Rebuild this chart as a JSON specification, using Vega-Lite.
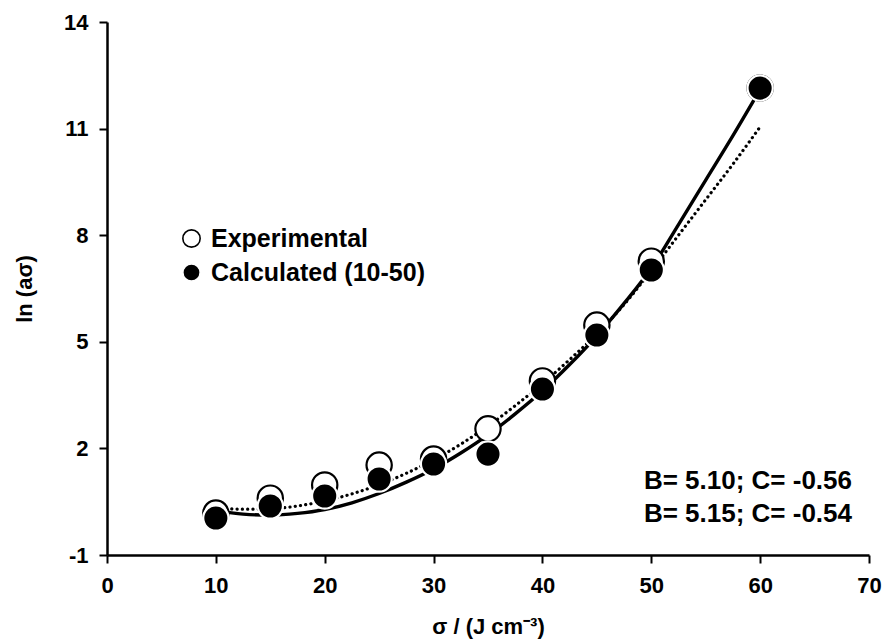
{
  "$schema": "https://vega.github.io/schema/vega-lite/v6.json",
  "width": 762,
  "height": 533,
  "autosize": {"type": "none"},
  "padding": {"left": 107, "top": 22, "right": 13, "bottom": 88},
  "background": "white",
  "config": {
    "view": {"stroke": null},
    "font": "Liberation Sans",
    "axis": {
      "grid": false,
      "domainColor": "black",
      "domainWidth": 2.5,
      "tickColor": "black",
      "tickWidth": 2,
      "tickSize": 8,
      "labelFlush": false,
      "labelOverlap": false,
      "labelFont": "Liberation Sans",
      "labelFontSize": 22,
      "labelFontWeight": "bold",
      "labelColor": "black",
      "labelExpr": "'' + datum.value",
      "titleFont": "Liberation Sans",
      "titleFontSize": 22,
      "titleFontWeight": "bold",
      "titleColor": "black"
    }
  },
  "datasets": {
    "points": [
      {"series": "Experimental", "sigma": 10, "ln": 0.18},
      {"series": "Experimental", "sigma": 15, "ln": 0.6},
      {"series": "Experimental", "sigma": 20, "ln": 0.97},
      {"series": "Experimental", "sigma": 25, "ln": 1.53},
      {"series": "Experimental", "sigma": 30, "ln": 1.7},
      {"series": "Experimental", "sigma": 35, "ln": 2.55},
      {"series": "Experimental", "sigma": 40, "ln": 3.9},
      {"series": "Experimental", "sigma": 45, "ln": 5.47},
      {"series": "Experimental", "sigma": 50, "ln": 7.27},
      {"series": "Experimental", "sigma": 60, "ln": 12.14},
      {"series": "Calculated (10-50)", "sigma": 10, "ln": 0.04},
      {"series": "Calculated (10-50)", "sigma": 15, "ln": 0.38},
      {"series": "Calculated (10-50)", "sigma": 20, "ln": 0.66},
      {"series": "Calculated (10-50)", "sigma": 25, "ln": 1.14},
      {"series": "Calculated (10-50)", "sigma": 30, "ln": 1.56},
      {"series": "Calculated (10-50)", "sigma": 35, "ln": 1.84},
      {"series": "Calculated (10-50)", "sigma": 40, "ln": 3.67},
      {"series": "Calculated (10-50)", "sigma": 45, "ln": 5.19},
      {"series": "Calculated (10-50)", "sigma": 50, "ln": 7.02},
      {"series": "Calculated (10-50)", "sigma": 60, "ln": 12.14}
    ],
    "curves": [
      {"curve": "solid", "sigma": 10, "ln": 0.25},
      {"curve": "solid", "sigma": 12.5, "ln": 0.15},
      {"curve": "solid", "sigma": 15, "ln": 0.12},
      {"curve": "solid", "sigma": 17.5, "ln": 0.17},
      {"curve": "solid", "sigma": 20, "ln": 0.28},
      {"curve": "solid", "sigma": 22.5, "ln": 0.47},
      {"curve": "solid", "sigma": 25, "ln": 0.73},
      {"curve": "solid", "sigma": 27.5, "ln": 1.05},
      {"curve": "solid", "sigma": 30, "ln": 1.42},
      {"curve": "solid", "sigma": 32.5, "ln": 1.87},
      {"curve": "solid", "sigma": 35, "ln": 2.38},
      {"curve": "solid", "sigma": 37.5, "ln": 2.97},
      {"curve": "solid", "sigma": 40, "ln": 3.62},
      {"curve": "solid", "sigma": 42.5, "ln": 4.36},
      {"curve": "solid", "sigma": 45, "ln": 5.17},
      {"curve": "solid", "sigma": 47.5, "ln": 6.08},
      {"curve": "solid", "sigma": 50, "ln": 7.07},
      {"curve": "solid", "sigma": 52.5, "ln": 8.3},
      {"curve": "solid", "sigma": 55, "ln": 9.55},
      {"curve": "solid", "sigma": 57.5, "ln": 10.8},
      {"curve": "solid", "sigma": 60, "ln": 12.1},
      {"curve": "dotted", "sigma": 10, "ln": 0.32},
      {"curve": "dotted", "sigma": 12.5, "ln": 0.29},
      {"curve": "dotted", "sigma": 15, "ln": 0.3},
      {"curve": "dotted", "sigma": 17.5, "ln": 0.38},
      {"curve": "dotted", "sigma": 20, "ln": 0.52},
      {"curve": "dotted", "sigma": 22.5, "ln": 0.72},
      {"curve": "dotted", "sigma": 25, "ln": 0.98},
      {"curve": "dotted", "sigma": 27.5, "ln": 1.3},
      {"curve": "dotted", "sigma": 30, "ln": 1.68},
      {"curve": "dotted", "sigma": 32.5, "ln": 2.12},
      {"curve": "dotted", "sigma": 35, "ln": 2.63},
      {"curve": "dotted", "sigma": 37.5, "ln": 3.2},
      {"curve": "dotted", "sigma": 40, "ln": 3.82},
      {"curve": "dotted", "sigma": 42.5, "ln": 4.5},
      {"curve": "dotted", "sigma": 45, "ln": 5.22},
      {"curve": "dotted", "sigma": 47.5, "ln": 6.05},
      {"curve": "dotted", "sigma": 50, "ln": 7.0},
      {"curve": "dotted", "sigma": 52.5, "ln": 8.0},
      {"curve": "dotted", "sigma": 55, "ln": 9.0},
      {"curve": "dotted", "sigma": 57.5, "ln": 10.0},
      {"curve": "dotted", "sigma": 60, "ln": 11.05}
    ],
    "fitParams": [
      {"fit": "B= 5.10; C= -0.56"},
      {"fit": "B= 5.15; C= -0.54"}
    ]
  },
  "layer": [
    {
      "data": {"name": "curves"},
      "transform": [{"filter": "datum.curve === 'dotted'"}],
      "mark": {
        "type": "line",
        "interpolate": "monotone",
        "color": "black",
        "strokeWidth": 3.2,
        "strokeCap": "round",
        "strokeDash": [0.1, 5.2]
      },
      "encoding": {
        "x": {
          "field": "sigma",
          "type": "quantitative",
          "scale": {"domain": [0, 70], "nice": false, "zero": false},
          "title": "σ / (J cm⁻³)",
          "axis": {
            "values": [0, 10, 20, 30, 40, 50, 60, 70],
            "labelPadding": 12,
            "titlePadding": 20
          }
        },
        "y": {
          "field": "ln",
          "type": "quantitative",
          "scale": {"domain": [-1, 14], "nice": false, "zero": false},
          "title": "ln (aσ)",
          "axis": {
            "values": [-1, 2, 5, 8, 11, 14],
            "labelPadding": 11,
            "titlePadding": 27
          }
        }
      }
    },
    {
      "data": {"name": "curves"},
      "transform": [{"filter": "datum.curve === 'solid'"}],
      "mark": {
        "type": "line",
        "interpolate": "monotone",
        "color": "black",
        "strokeWidth": 3.4
      },
      "encoding": {
        "x": {"field": "sigma", "type": "quantitative", "title": "σ / (J cm⁻³)"},
        "y": {"field": "ln", "type": "quantitative", "title": "ln (aσ)"}
      }
    },
    {
      "data": {"name": "points"},
      "mark": {
        "type": "point",
        "shape": "circle",
        "filled": true,
        "size": 640,
        "opacity": 1,
        "strokeWidth": 2.2
      },
      "encoding": {
        "x": {"field": "sigma", "type": "quantitative", "title": "σ / (J cm⁻³)"},
        "y": {"field": "ln", "type": "quantitative", "title": "ln (aσ)"},
        "fill": {
          "field": "series",
          "type": "nominal",
          "sort": null,
          "scale": {
            "domain": ["Experimental", "Calculated (10-50)"],
            "range": ["white", "black"]
          },
          "legend": {
            "title": null,
            "orient": "none",
            "legendX": 72,
            "legendY": 204,
            "symbolType": "circle",
            "symbolSize": 300,
            "symbolStrokeColor": "black",
            "symbolStrokeWidth": 1.6,
            "symbolOpacity": 1,
            "labelFont": "Liberation Sans",
            "labelFontSize": 25,
            "labelFontWeight": "bold",
            "labelColor": "black",
            "labelOffset": 7,
            "rowPadding": 8,
            "labelLimit": 400
          }
        },
        "stroke": {
          "field": "series",
          "type": "nominal",
          "scale": {
            "domain": ["Experimental", "Calculated (10-50)"],
            "range": ["black", "white"]
          },
          "legend": null
        }
      }
    },
    {
      "data": {"name": "fitParams"},
      "transform": [{"filter": "datum.fit === 'B= 5.10; C= -0.56'"}],
      "mark": {
        "type": "text",
        "align": "right",
        "baseline": "middle",
        "font": "Liberation Sans",
        "fontSize": 26,
        "fontWeight": "bold",
        "color": "black"
      },
      "encoding": {
        "x": {"datum": 68.44, "type": "quantitative", "title": "σ / (J cm⁻³)"},
        "y": {"datum": 1.08, "type": "quantitative", "title": "ln (aσ)"},
        "text": {"field": "fit"}
      }
    },
    {
      "data": {"name": "fitParams"},
      "transform": [{"filter": "datum.fit === 'B= 5.15; C= -0.54'"}],
      "mark": {
        "type": "text",
        "align": "right",
        "baseline": "middle",
        "font": "Liberation Sans",
        "fontSize": 26,
        "fontWeight": "bold",
        "color": "black"
      },
      "encoding": {
        "x": {"datum": 68.44, "type": "quantitative", "title": "σ / (J cm⁻³)"},
        "y": {"datum": 0.15, "type": "quantitative", "title": "ln (aσ)"},
        "text": {"field": "fit"}
      }
    }
  ]
}
